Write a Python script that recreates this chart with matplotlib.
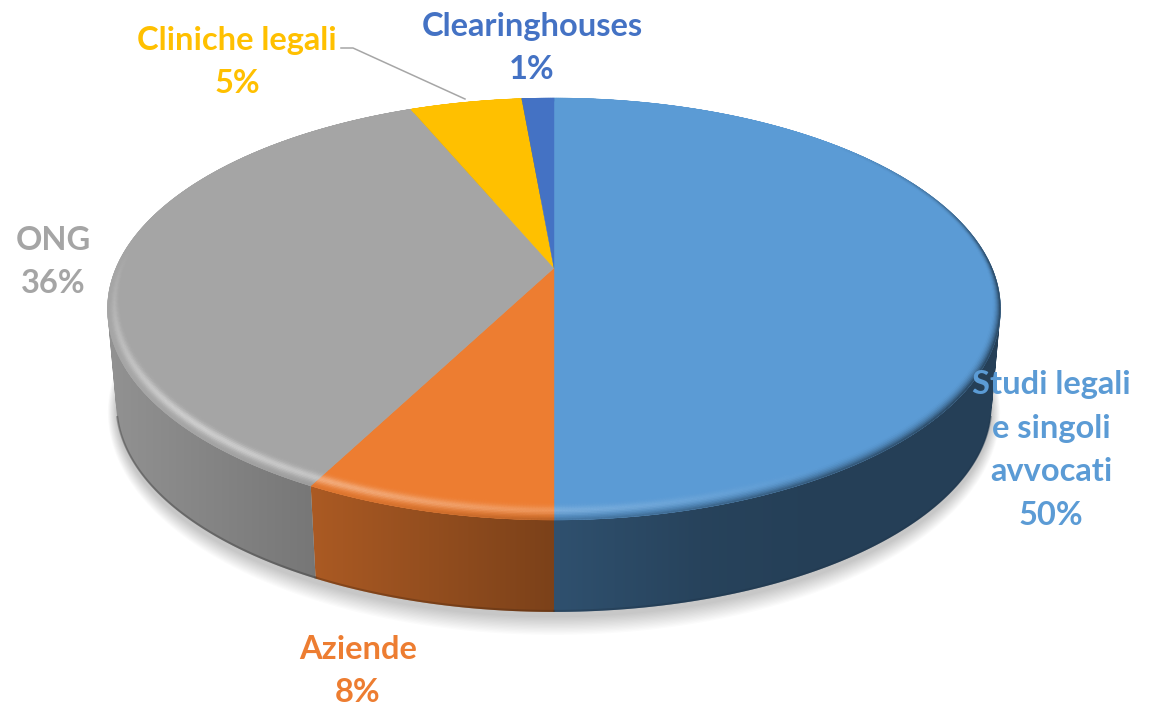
import numpy as np
import matplotlib
matplotlib.use("Agg")
from matplotlib import pyplot as plt
from matplotlib.collections import PolyCollection
from matplotlib.path import Path
from matplotlib.patches import PathPatch

labels = ["Studi legali\ne singoli\navvocati", "Aziende", "ONG", "Cliniche legali", "Clearinghouses"]
percents = [50, 8, 36, 5, 1]
shares = [50.0, 7.6, 36.1, 4.9, 1.4]  # slice sizes as measured on the disc
colors = ["#5B9BD5", "#ED7D31", "#A5A5A5", "#FFC000", "#4472C4"]
label_xy = [(1051, 450), (358, 671), (53, 262), (237, 62), (532, 48)]

# pie geometry in picture pixels
CX, CY = 554, 268
TILT, YSCALE, XSCALE = 0.1943, 203, 438
DEPTH, SHRINK = 97, 0.98


def project(phi, r=1.0, drop=0, scale=1.0):
    # phi is clockwise from 12 o'clock, unit circle seen in perspective
    x = r * np.sin(phi)
    y = r * np.cos(phi)
    w = 1 + TILT * y
    return CX + scale * XSCALE * x / w, CY + drop - scale * YSCALE * y / w


def side_shade(px):
    return np.interp(px - CX, [-440, -240, 0, 150, 260], [0.88, 0.72, 0.52, 0.43, 0.41])


fig = plt.figure(figsize=(11.5, 7.07), dpi=100)
ax = fig.add_axes([0, 0, 1, 1])
plt.rcParams["font.family"] = "Lato"

# soft shadow under the disc
ring = np.linspace(0, 2 * np.pi, 361)
for k in range(14, 0, -1):
    sx, sy = project(ring, drop=DEPTH + 4, scale=SHRINK)
    sx = CX + (sx - CX) * (1 + k * 0.0014)
    sy = CY + DEPTH + 4 + (sy - CY - DEPTH - 4) * (1 + k * 0.0055)
    ax.fill(sx, sy, color="black", alpha=0.016, lw=0, zorder=1)

edges = np.radians(np.concatenate([[0], np.cumsum(shares)]) * 3.6)
pixel_x = np.arange(1150) + 0.5

# outer wall, a horizontal gradient clipped to the swept slice outline
for i, col in enumerate(colors):
    rgb = np.array(matplotlib.colors.to_rgb(col))
    phis = np.linspace(edges[i], edges[i + 1], max(3, int((edges[i + 1] - edges[i]) / 0.01)))
    verts, codes = [], []
    for a, b in zip(phis[:-1], phis[1:]):
        x1, y1 = project(np.array([a, b]))
        x2, y2 = project(np.array([b, a]), drop=DEPTH, scale=SHRINK)
        quad = np.column_stack([np.r_[x1, x2], np.r_[y1, y2]])
        area = np.sum(quad[:, 0] * np.roll(quad[:, 1], -1) - np.roll(quad[:, 0], -1) * quad[:, 1])
        if area < 0:
            quad = quad[::-1]
        verts.extend(quad.tolist() + [quad[0].tolist()])
        codes.extend([Path.MOVETO, Path.LINETO, Path.LINETO, Path.LINETO, Path.CLOSEPOLY])
    clip = PathPatch(Path(verts, codes), transform=ax.transData, fc="none", ec="none")
    ax.add_patch(clip)
    band = np.clip(rgb[None, None, :] * side_shade(pixel_x)[None, :, None], 0, 1)
    im = ax.imshow(band, extent=(0, 1150, 707, 0), aspect="auto", interpolation="bilinear", zorder=2)
    im.set_clip_path(clip)
    # darker lip along the visible bottom edge only
    front = phis[np.cos(phis) < -0.25]
    if len(front) > 1:
        bx, by = project(front, drop=DEPTH - 1, scale=SHRINK)
        ax.plot(bx, by, color=rgb * 0.35, lw=1.5, alpha=0.4, zorder=3)

ax.set_xlim(0, 1150)
ax.set_ylim(707, 0)
ax.axis("off")

# top face
for i, col in enumerate(colors):
    phis = np.linspace(edges[i], edges[i + 1], 200)
    x, y = project(phis)
    ax.fill(np.r_[CX, x], np.r_[CY, y], color=col, lw=0.3, zorder=4)

# bevel around the rim of the top face
bands = np.linspace(0, 1, 15)
for i, col in enumerate(colors):
    rgb = np.array(matplotlib.colors.to_rgb(col))
    phis = np.arange(edges[i], edges[i + 1] + 0.006, 0.006)
    phis[-1] = edges[i + 1]
    quads, shades = [], []
    for a, b in zip(phis[:-1], phis[1:]):
        m = (a + b) / 2
        width = 0.025 + 0.04 * max(-np.cos(m), 0)
        vis = np.clip((0.1 - np.cos(m)) / 0.8, 0, 1)
        light = vis * np.clip(0.4 - 0.75 * np.sin(m), 0, 1)
        dark = np.clip(0.5 + 0.6 * np.sin(m), 0, 1) * np.clip((0.7 - np.cos(m)) / 0.7, 0, 1)
        wall = rgb * side_shade(project(m)[0])
        for t1, t2 in zip(bands[:-1], bands[1:]):
            t = (t1 + t2) / 2
            r1, r2 = 1 - width * (1 - t1), 1 - width * (1 - t2)
            xa, ya = project(np.array([a, b]), r=r1)
            xb, yb = project(np.array([b, a]), r=r2)
            c = rgb + (1 - rgb) * 0.5 * light * np.exp(-((t - 0.55) / 0.22) ** 2)
            d = dark * np.clip((t - 0.45) / 0.55, 0, 1) ** 2
            c = c * (1 - d) + wall * d
            quads.append(np.column_stack([np.r_[xa, xb], np.r_[ya, yb]]))
            shades.append(np.clip(c, 0, 1))
    ax.add_collection(PolyCollection(quads, facecolors=shades, edgecolors=shades, linewidths=0.3, zorder=5))

# leader for Cliniche legali
ax.plot([341, 353, 465], [48, 48, 99], color="#A6A6A6", lw=1.1, zorder=6)

for name, val, col, (lx, ly) in zip(labels, percents, colors, label_xy):
    ax.text(lx, ly, f"{name}\n{val}%", color=col, ha="center", va="center",
            fontsize=23.5, fontweight="bold", family="Lato", linespacing=1.6, zorder=7)

fig.savefig("out.png", dpi=100)
